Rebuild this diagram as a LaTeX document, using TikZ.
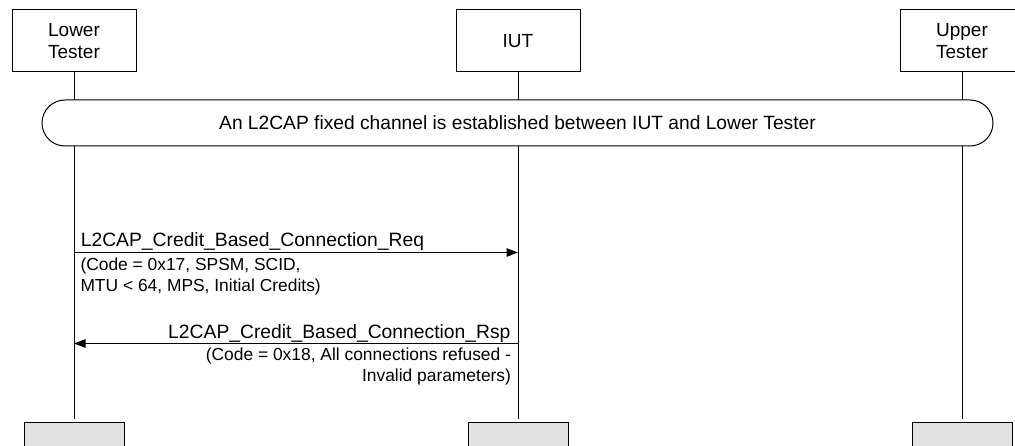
\documentclass[tikz,border=0pt]{standalone}
\usepackage{fontspec}
\setmainfont{Liberation Sans}
\usetikzlibrary{arrows.meta}
\definecolor{endgray}{RGB}{226,226,226}
\begin{document}
\begin{tikzpicture}[x=1pt,y=-1pt,line width=1pt,
  big/.style={font=\fontsize{19}{21.5}\selectfont},
  msgfont/.style={font=\fontsize{19.3}{21.5}\selectfont},
  small/.style={font=\fontsize{17.4}{21}\selectfont},
  head/.style={draw,fill=white,minimum width=124pt,minimum height=62pt,inner sep=0pt,align=center,big},
  foot/.style={draw,fill=endgray,minimum width=100pt,minimum height=30pt,inner sep=0pt,anchor=north},
  life/.style={line width=1pt},
  msg/.style={-{Triangle[length=11.5pt,width=8.5pt]}},
  lbl/.style={inner sep=0pt},
  banner/.style={draw,fill=white,rounded corners=23pt,minimum width=951pt,minimum height=46pt,inner sep=0pt,font=\fontsize{19.2}{21.5}\selectfont}]
\useasboundingbox (0,0) rectangle (1015,446);
\clip (0,0) rectangle (1015,446);
\fill[white] (0,0) rectangle (1015,446);

% header boxes
\node[head] (lt)  at (74,41)  {Lower\\Tester};
\node[head] (iut) at (518,41) {IUT};
\node[head] (ut)  at (962,41) {Upper\\Tester};

% lifeline ends
\coordinate (ltend)  at (74,419);
\coordinate (iutend) at (518,419);
\coordinate (utend)  at (962,419);

\draw[life] (lt.south)  -- (ltend);
\draw[life] (iut.south) -- (iutend);
\draw[life] (ut.south)  -- (utend);

% footer boxes
\node[foot] (ltfoot)  at (74,422)  {};
\node[foot] (iutfoot) at (518,422) {};
\node[foot] (utfoot)  at (962,422) {};

% banner
\node[banner] (fixed) at (517.5,123) {An L2CAP fixed channel is established between IUT and Lower Tester};

% message 1
\coordinate (m1l) at (74,252.5);
\coordinate (m1r) at (518,252.5);
\draw[msg] (m1l) -- (m1r);
\node[lbl,msgfont,anchor=base west] (reqlbl) at (80.3,247) {L2CAP\_Credit\_Based\_Connection\_Req};
\node[lbl,small,anchor=base west] (reqp1) at (80,271) {(Code = 0x17, SPSM, SCID,};
\node[lbl,small,anchor=base west] (reqp2) at (80,292) {MTU < 64, MPS, Initial Credits)};

% message 2
\coordinate (m2r) at (518,343.5);
\coordinate (m2l) at (74,343.5);
\draw[msg] (m2r) -- (m2l);
\node[lbl,msgfont,anchor=base east] (rsplbl) at (511,338) {L2CAP\_Credit\_Based\_Connection\_Rsp};
\node[lbl,small,anchor=base east] (rspp1) at (511.5,360) {(Code = 0x18, All connections refused -};
\node[lbl,small,anchor=base east] (rspp2) at (511.5,381.7) {Invalid parameters)};
\end{tikzpicture}
\end{document}
